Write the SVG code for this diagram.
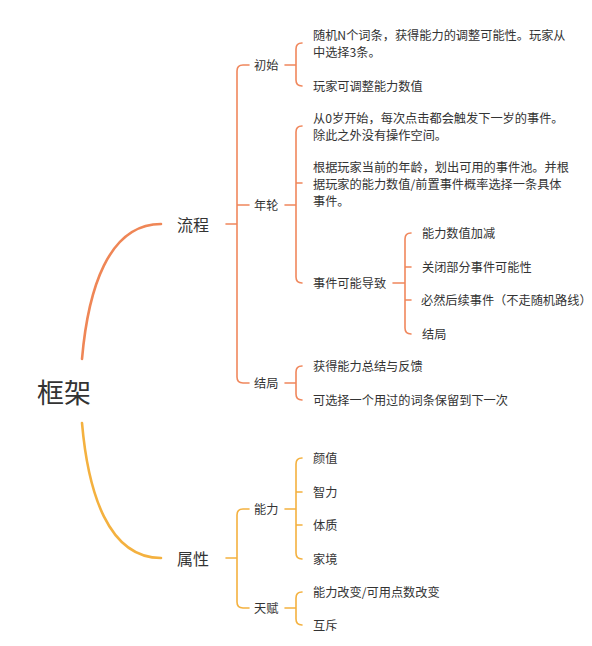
<svg xmlns="http://www.w3.org/2000/svg" width="592" height="646" viewBox="0 0 592 646">
<style>
text{font-family:"Noto Sans CJK SC","Noto Sans",sans-serif;fill:#333;dominant-baseline:central}
.s{font-size:12.2px}
.m{font-size:16px}
.r{font-size:27px}
.o{fill:none;stroke:#F0875C;stroke-width:1.6;stroke-linecap:round}
.y{fill:none;stroke:#F4B13F;stroke-width:1.6;stroke-linecap:round}
.oc{fill:none;stroke:#EF8656;stroke-width:2.6;stroke-linecap:round}
.yc{fill:none;stroke:#F4B13F;stroke-width:2.6;stroke-linecap:round}
</style>
<rect width="592" height="646" fill="#fff"/>
<g id="connectors">
<path class="oc" d="M82,359 C88,290 108,224 161,224"/>
<path class="yc" d="M82,423 C88,492 108,558 161,558"/>
<path class="o" d="M226,224 H237 M249,65 H243 Q237,65 237,71 V377 Q237,383 243,383 H249 M237,205 H249"/>
<path class="o" d="M285,65 H296 M302,43 Q296,43 296,49 V80 Q296,86 302,86"/>
<path class="o" d="M285,205 H296 M302,126 Q296,126 296,132 V277 Q296,283 302,283 M296,183 H302"/>
<path class="o" d="M393,283 H405 M411,233 Q405,233 405,239 V328 Q405,334 411,334 M405,267 H411 M405,300 H411"/>
<path class="o" d="M285,383 H296 M302,366 Q296,366 296,372 V394 Q296,400 302,400"/>
<path class="y" d="M226,558 H237 M249,509 H243 Q237,509 237,515 V602 Q237,608 243,608 H249"/>
<path class="y" d="M285,509 H296 M302,458 Q296,458 296,464 V553 Q296,559 302,559 M296,492 H302 M296,525 H302"/>
<path class="y" d="M285,608 H296 M302,592 Q296,592 296,598 V619 Q296,625 302,625"/>
</g>
<g id="root"><text class="r" x="37" y="391">框架</text></g>
<g id="liucheng"><text class="m" x="177" y="224">流程</text></g>
<g id="chushi"><text class="s" x="254" y="65">初始</text></g>
<g id="chushi-1"><text class="s" x="313" y="35">随机N个词条，获得能力的调整可能性。玩家从</text><text class="s" x="313" y="52">中选择3条。</text></g>
<g id="chushi-2"><text class="s" x="313" y="86">玩家可调整能力数值</text></g>
<g id="nianlun"><text class="s" x="254" y="205">年轮</text></g>
<g id="nianlun-1"><text class="s" x="313" y="118">从0岁开始，每次点击都会触发下一岁的事件。</text><text class="s" x="313" y="135">除此之外没有操作空间。</text></g>
<g id="nianlun-2"><text class="s" x="313" y="166.5">根据玩家当前的年龄，划出可用的事件池。并根</text><text class="s" x="313" y="183.5">据玩家的能力数值/前置事件概率选择一条具体</text><text class="s" x="313" y="200.5">事件。</text></g>
<g id="nianlun-3"><text class="s" x="313" y="283">事件可能导致</text></g>
<g id="e1"><text class="s" x="422" y="233">能力数值加减</text></g>
<g id="e2"><text class="s" x="422" y="267">关闭部分事件可能性</text></g>
<g id="e3"><text class="s" x="421" y="300">必然后续事件（不走随机路线）</text></g>
<g id="e4"><text class="s" x="422" y="334">结局</text></g>
<g id="jieju"><text class="s" x="254" y="383">结局</text></g>
<g id="jieju-1"><text class="s" x="313" y="366">获得能力总结与反馈</text></g>
<g id="jieju-2"><text class="s" x="313" y="400">可选择一个用过的词条保留到下一次</text></g>
<g id="shuxing"><text class="m" x="177" y="558">属性</text></g>
<g id="nengli"><text class="s" x="254" y="509">能力</text></g>
<g id="n1"><text class="s" x="313" y="458">颜值</text></g>
<g id="n2"><text class="s" x="313" y="492">智力</text></g>
<g id="n3"><text class="s" x="313" y="525">体质</text></g>
<g id="n4"><text class="s" x="313" y="559">家境</text></g>
<g id="tianfu"><text class="s" x="254" y="608">天赋</text></g>
<g id="t1"><text class="s" x="313" y="592">能力改变/可用点数改变</text></g>
<g id="t2"><text class="s" x="313" y="625">互斥</text></g>
</svg>
